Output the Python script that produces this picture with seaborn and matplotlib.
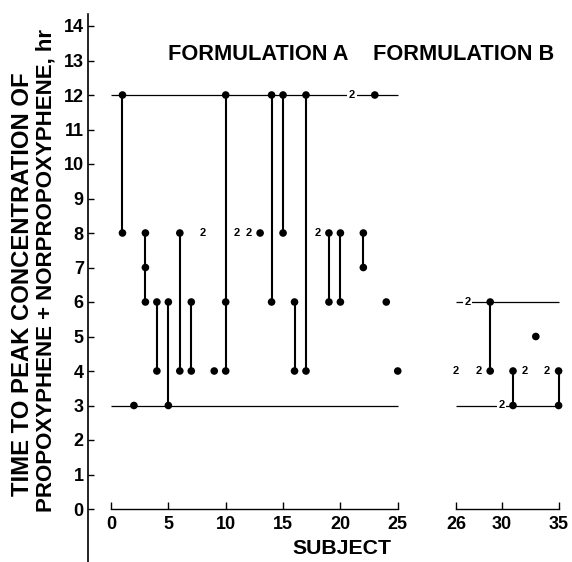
import numpy as np
import pandas as pd
import matplotlib
matplotlib.use("Agg")
import matplotlib.pyplot as plt
import seaborn as sns

# ---------------- data ----------------
# Formulation A: individual observations (subject, hours)
a_subject = [1, 1, 2, 3, 3, 3, 4, 4, 5, 5, 6, 6, 7, 7, 9, 10, 10, 10, 13, 14, 14,
             15, 15, 16, 16, 17, 17, 19, 19, 20, 20, 22, 22, 23, 24, 25]
a_value = [12, 8, 3, 8, 7, 6, 6, 4, 6, 3, 8, 4, 6, 4, 4, 12, 6, 4, 8, 12, 6,
           12, 8, 6, 4, 12, 4, 8, 6, 8, 6, 8, 7, 12, 6, 4]
# coincident pairs (marked "2")
a_dup_subject = [8, 11, 12, 18, 21]
a_dup_value = [8, 8, 8, 8, 12]
a_range = [3, 12]

# Formulation B
b_subject = [29, 29, 31, 31, 33, 35, 35]
b_value = [6, 4, 4, 3, 5, 4, 3]
b_dup_subject = [26, 27, 28, 30, 32, 34]
b_dup_value = [4, 6, 4, 3, 4, 4]
b_range = [3, 6]

a_ticks = [0, 5, 10, 15, 20, 25]
b_ticks = [26, 30, 35]
y_ticks = list(range(0, 15))

# ---------------- style ----------------
sns.set_theme(style="ticks")
plt.rcParams['font.family'] = ['Liberation Sans', 'DejaVu Sans']
plt.rcParams['font.weight'] = 'bold'
plt.rcParams['text.color'] = 'black'
plt.rcParams['axes.labelcolor'] = 'black'
plt.rcParams['xtick.color'] = 'black'
plt.rcParams['ytick.color'] = 'black'

W, H = 572, 562
fig = plt.figure(figsize=(W / 100, H / 100), dpi=100)
fig.patch.set_facecolor('white')


def px(x0, ytop, x1, ybot):
    return [x0 / W, 1 - ybot / H, (x1 - x0) / W, (ybot - ytop) / H]


axA = fig.add_axes(px(88, 14, 420, 562))
axB = fig.add_axes(px(430, 14, 572, 562))

YPX = 34.5
ylim = (-(562 - 509) / YPX, (509 - 14) / YPX)
axA.set_xlim(-23 / 11.47, (420 - 111) / 11.47)
axB.set_xlim(26 - (456 - 430) / 11.4, 26 + (572 - 456) / 11.4)

dfA = pd.DataFrame({'subject': a_subject, 'value': a_value})
dfB = pd.DataFrame({'subject': b_subject, 'value': b_value})

for ax, df, dsub, dval, rng, (x0, x1), ticks in [
        (axA, dfA, a_dup_subject, a_dup_value, a_range, (0, 25), a_ticks),
        (axB, dfB, b_dup_subject, b_dup_value, b_range, (26, 35), b_ticks)]:
    ax.set_facecolor('none')
    ax.set_ylim(*ylim)
    # range lines
    ax.hlines(rng, x0, x1, color='black', lw=0.9, zorder=1)
    # connectors
    g = df.groupby('subject')['value'].agg(['min', 'max']).reset_index()
    g = g[g['max'] > g['min']]
    ax.vlines(g['subject'], g['min'], g['max'], color='black', lw=1.5, zorder=2)
    sns.scatterplot(data=df, x='subject', y='value', ax=ax, color='black',
                    s=30, edgecolor='none', zorder=3, legend=False)
    for s, v in zip(dsub, dval):
        ax.text(s, v, '2', ha='center', va='center', fontsize=8,
                fontweight='bold', color='black', zorder=4,
                bbox=dict(boxstyle='square,pad=0.15', fc='white', ec='none'))
    ax.set_xlabel('')
    ax.set_ylabel('')
    for sp in ['top', 'right']:
        ax.spines[sp].set_visible(False)
    ax.spines['bottom'].set_position(('data', 0))
    ax.spines['bottom'].set_bounds(x0, x1)
    ax.spines['bottom'].set_linewidth(1.0)
    ax.spines['bottom'].set_color('black')
    ax.set_xticks(ticks)
    ax.set_xticklabels([str(t) for t in ticks])
    ax.tick_params(axis='x', direction='in', length=5, width=1, colors='black',
                   labelsize=13, pad=5)
    ax.grid(False)

axA.spines['left'].set_linewidth(1.2)
axA.spines['left'].set_color('black')
axA.set_yticks(y_ticks)
axA.set_yticklabels([str(t) for t in y_ticks])
axA.tick_params(axis='y', direction='in', length=4, width=1, colors='black',
                labelsize=13, pad=3)
axB.spines['left'].set_visible(False)
axB.tick_params(axis='y', left=False, labelleft=False)

# ---------------- texts ----------------
fig.text(258 / W, 1 - 55 / H, 'FORMULATION A', ha='center', va='center',
         fontsize=15.7, color='black')
fig.text(464 / W, 1 - 55 / H, 'FORMULATION B', ha='center', va='center',
         fontsize=15.7, color='black')
fig.text(342 / W, 1 - 548 / H, 'SUBJECT', ha='center', va='center',
         fontsize=15.3, color='black')
fig.text(23 / W, 1 - 284 / H, 'TIME TO PEAK CONCENTRATION OF', rotation=90,
         ha='center', va='center', fontsize=17.2, color='black')
fig.text(46 / W, 1 - 270 / H, 'PROPOXYPHENE + NORPROPOXYPHENE, hr', rotation=90,
         ha='center', va='center', fontsize=16, color='black')

fig.savefig('out.png', dpi=100, facecolor='white')
